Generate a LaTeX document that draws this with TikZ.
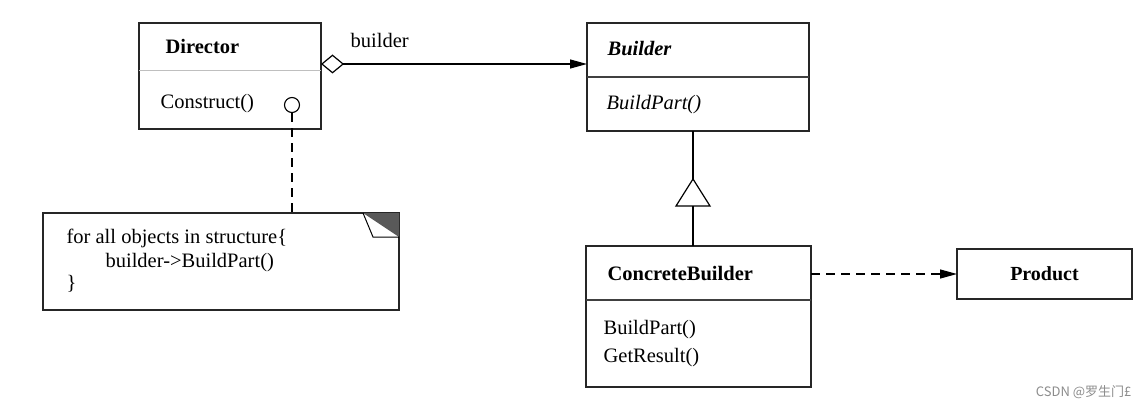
\documentclass[tikz,border=0pt]{standalone}
\usepackage{fontspec}
\setmainfont{Liberation Serif}
\newfontfamily\cjk{Noto Sans CJK SC}
\usetikzlibrary{arrows.meta,calc}
\begin{document}
\begin{tikzpicture}[x=1pt,y=-1pt,line width=1.2pt,
  font=\fontsize{20.5}{24}\selectfont,
  box/.style={draw=black!85,line width=1.2pt,anchor=north west,inner sep=0pt,outer sep=0pt},
  lbl/.style={anchor=base west,inner sep=0pt},
  sep/.style={draw=black!75,line width=1.1pt},
  dashline/.style={dash pattern=on 9pt off 6pt},
  head/.style={-{Triangle[length=17pt,width=9pt]}}]
\useasboundingbox (0,0) rectangle (1148,412);
% class boxes
\node[box,minimum width=182pt,minimum height=106pt] (dir) at (139,23) {};
\node[box,minimum width=222pt,minimum height=108pt] (bld) at (587,23) {};
\node[box,minimum width=225pt,minimum height=141pt] (cb) at (586,246) {};
\node[box,minimum width=175pt,minimum height=50pt,font=\fontsize{20}{24}\selectfont\bfseries] (prod) at (957,249) {Product};
\node[box,minimum width=356pt,minimum height=97pt] (note) at (43,213) {};
% separators
\draw[draw=black!25,line width=1pt] ($(dir.north west)+(0,48)$) -- ($(dir.north east)+(0,48)$);
\draw[sep] ($(bld.north west)+(0,54)$) -- ($(bld.north east)+(0,54)$);
\draw[sep] ($(cb.north west)+(0,54)$) -- ($(cb.north east)+(0,54)$);
% texts
\node[lbl,font=\fontsize{20.5}{24}\selectfont\bfseries] (tdir) at (165,54) {Director};
\node[lbl] (tcon) at (160,108) {Construct()};
\node[lbl,font=\fontsize{20.5}{24}\selectfont\bfseries\itshape] (tbld) at (607,56) {Builder};
\node[lbl,font=\fontsize{20.5}{24}\selectfont\itshape] (tbp) at (606,109) {BuildPart()};
\node[lbl,font=\fontsize{20.5}{24}\selectfont\bfseries] (tcb) at (607,280) {ConcreteBuilder};
\node[lbl] (tcbp) at (603,334) {BuildPart()};
\node[lbl] (tgr) at (603,362) {GetResult()};
\node[lbl] (n1) at (66,243) {for all objects in structure\{};
\node[lbl] (n2) at (105,267) {builder->BuildPart()};
\node[lbl] (n3) at (66,289) {\}};
% note fold
\fill[black!65] (363,213) -- (399,213) -- (399,237) -- cycle;
\draw[line width=1pt] (363,213) -- (373,237) -- (399,237);
% circle and dashed link
\node[circle,draw,line width=1.1pt,minimum size=15pt,inner sep=0pt] (circ) at (292,105) {};
\draw[dashline,line width=1.1pt] (circ.south) -- (circ.south |- note.north);
% aggregation
\draw[{Diamond[open,length=23pt,width=19pt]}-{Triangle[length=17pt,width=9pt]}] ([yshift=12pt]dir.east) -- ([yshift=13pt]bld.west);
\node[lbl] (blab) at (350,48) {builder};
% inheritance
\coordinate (tt) at (693,179);
\draw (bld.south -| tt) -- (tt);
\draw (tt) -- ++(17,27) -- ++(-34,0) -- cycle;
\draw ($(tt)+(0,27)$) -- (cb.north -| tt);
% dependency
\draw[dashline,head] (cb.east |- prod.west) -- (prod.west);
% watermark
\node[anchor=east,inner sep=0pt,font=\cjk\fontsize{13}{15}\selectfont,text=black!45] (wm) at (1132,392) {CSDN @罗生门£};
\end{tikzpicture}
\end{document}
